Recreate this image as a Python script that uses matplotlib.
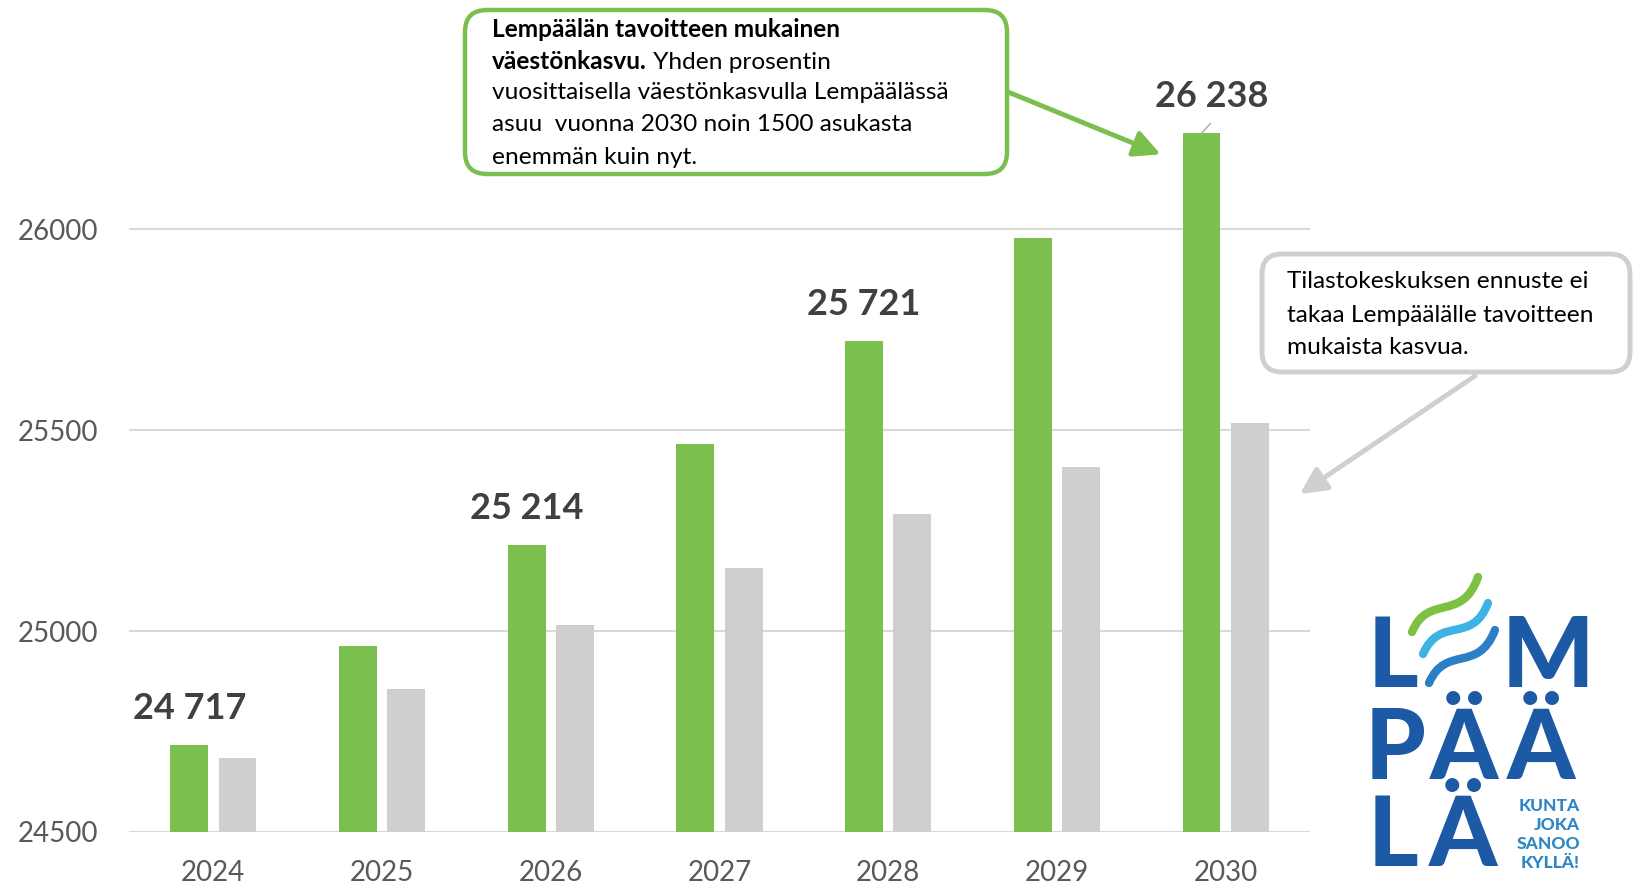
import matplotlib
matplotlib.use('Agg')
import matplotlib.pyplot as plt
import numpy as np
from matplotlib.patches import FancyBboxPatch, PathPatch
from matplotlib.path import Path

plt.rcParams['font.family'] = ['Lato', 'DejaVu Sans']

#-----------------Data-----------------

years = ['2024', '2025', '2026', '2027', '2028', '2029', '2030']
target = [24717, 24964, 25214, 25466, 25721, 25978, 26238]
forecast = [24684, 24856, 25014, 25157, 25290, 25409, 25518]
labelled = [0, 2, 4, 6]

GREEN = '#7BBF4F'
GREY = '#D0CECE'
TXT = '#404040'

#-----------------Figure---------------

fig = plt.figure(figsize=(16.4, 8.86), dpi=100)
ax = fig.add_axes([129 / 1640, 54 / 886, (1310 - 129) / 1640, 832 / 886])

x = np.arange(len(years))
w = 0.225
ax.bar(x - 0.143, target, width=w, color=GREEN, zorder=3)
ax.bar(x + 0.143, forecast, width=w, color=GREY, zorder=3)

ax.set_xlim(-0.5, 6.5)
ax.set_ylim(24500, 26570)
ax.set_yticks([24500, 25000, 25500, 26000])
ax.set_xticks(x)
ax.set_xticklabels(years)
ax.grid(axis='y', color='#D9D9D9', lw=1.5, zorder=0)
for s in ax.spines.values():
    s.set_visible(False)
ax.tick_params(length=0, labelsize=20, labelcolor='#595959')
ax.tick_params(axis='x', pad=20)
ax.tick_params(axis='y', pad=22)

# value labels
for i in labelled:
    val = f'{target[i]:,}'.replace(',', ' ')
    if i == 6:
        ax.plot([i - 0.143, i - 0.09], [target[i], target[i] + 25], color='#A6A6A6', lw=1, zorder=4)
        ax.text(i - 0.08, target[i] + 50, val, ha='center', va='bottom',
                fontsize=26, fontweight='bold', color=TXT)
    else:
        ax.text(i - 0.143, target[i] + 50, val, ha='center', va='bottom',
                fontsize=26, fontweight='bold', color=TXT)

#-----------------Overlay (pixel coords)---------------

ov = fig.add_axes([0, 0, 1, 1], zorder=5)
ov.set_xlim(0, 1640)
ov.set_ylim(886, 0)
ov.axis('off')

# green callout
ov.add_patch(FancyBboxPatch((465, 10), 542, 164, boxstyle='round,pad=0,rounding_size=22',
                            fc='white', ec=GREEN, lw=3.2))
fs = 17.6
ov.text(492, 29, 'Lempäälän tavoitteen mukainen', fontsize=fs, fontweight='bold', va='center', color='black')
t_b = ov.text(492, 61, 'väestönkasvu.', fontsize=fs, fontweight='bold', va='center', color='black')
ov.annotate(' Yhden prosentin', xy=(1, 0), xycoords=t_b, va='bottom', fontsize=fs, color='black')
ov.text(492, 92, 'vuosittaisella väestönkasvulla Lempäälässä', fontsize=fs, va='center', color='black')
ov.text(492, 124, 'asuu  vuonna 2030 noin 1500 asukasta', fontsize=fs, va='center', color='black')
ov.text(492, 157, 'enemmän kuin nyt.', fontsize=fs, va='center', color='black')

ov.annotate('', xy=(6 - 0.385, 26186), xycoords=ax.transData,
            xytext=(1008, 92), textcoords=ov.transData,
            arrowprops=dict(arrowstyle='-|>,head_length=1.6,head_width=0.8', color=GREEN,
                            lw=3.5, shrinkA=0, shrinkB=0))

# grey callout
ov.add_patch(FancyBboxPatch((1262, 254), 368, 118, boxstyle='round,pad=0,rounding_size=20',
                            fc='white', ec=GREY, lw=3.5))
ov.text(1287, 282, 'Tilastokeskuksen ennuste ei', fontsize=fs, va='center', color='black')
ov.text(1287, 315, 'takaa Lempäälälle tavoitteen', fontsize=fs, va='center', color='black')
ov.text(1287, 347, 'mukaista kasvua.', fontsize=fs, va='center', color='black')

ov.annotate('', xy=(6.44, 25341), xycoords=ax.transData,
            xytext=(1475, 376), textcoords=ov.transData,
            arrowprops=dict(arrowstyle='-|>,head_length=1.6,head_width=0.8', color=GREY,
                            lw=3.5, shrinkA=0, shrinkB=0))

#-----------------Logo---------------

BLUE = '#1C5AA6'
LIGHT = '#2F86C6'
lf = 70
ov.text(1368, 687, 'L', fontsize=lf, fontweight='black', color=BLUE, ha='left', va='baseline')
ov.text(1548, 687, 'M', fontsize=lf, fontweight='black', color=BLUE, ha='center', va='baseline')
ov.text(1395, 779, 'P', fontsize=lf, fontweight='black', color=BLUE, ha='center', va='baseline')
ov.text(1464, 779, 'Ä', fontsize=lf, fontweight='black', color=BLUE, ha='center', va='baseline')
ov.text(1541, 779, 'Ä', fontsize=lf, fontweight='black', color=BLUE, ha='center', va='baseline')
ov.text(1368, 866, 'L', fontsize=lf, fontweight='black', color=BLUE, ha='left', va='baseline')
ov.text(1463, 866, 'Ä', fontsize=lf, fontweight='black', color=BLUE, ha='center', va='baseline')
for yy, word in zip([806, 825, 844, 863], ['KUNTA', 'JOKA', 'SANOO', 'KYLLÄ!']):
    ov.text(1580, yy, word, fontsize=12.5, fontweight='black', color=LIGHT, ha='right', va='center')

waves = [
    ([(1412, 632), (1428, 593), (1462, 623), (1478, 577)], '#7DC142'),
    ([(1423, 654), (1440, 615), (1472, 645), (1488, 603)], '#3DB2E3'),
    ([(1429, 683), (1446, 644), (1478, 674), (1495, 630)], '#2A7FC5'),
]
for pts, c in waves:
    path = Path(pts, [Path.MOVETO, Path.CURVE4, Path.CURVE4, Path.CURVE4])
    ov.add_patch(PathPatch(path, fc='none', ec=c, lw=6, capstyle='round'))

fig.savefig('out.png', dpi=100)
